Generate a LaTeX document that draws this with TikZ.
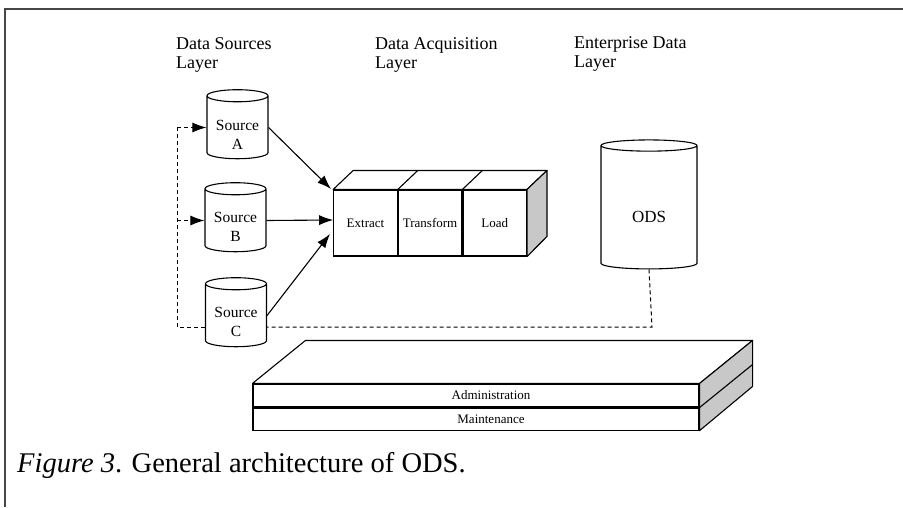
\documentclass[tikz,border=0pt]{standalone}
\usepackage{fontspec}
\setmainfont{Liberation Serif}
\usetikzlibrary{shapes.geometric,positioning,arrows.meta}

\definecolor{sidegray}{RGB}{200,200,200}
\definecolor{framegray}{RGB}{70,70,70}

\tikzset{
    source node/.style={cylinder, shape border rotate=90, draw, line width=1.1pt,
        aspect=0.28, minimum width=61pt, minimum height=69pt, inner sep=0pt,
        align=center, text height=43pt, font=\fontsize{15.5}{19}\selectfont},
    etl node/.style={rectangle, draw, line width=1.1pt, minimum width=63.5pt,
        minimum height=66pt, inner sep=0pt, font=\fontsize{13}{15}\selectfont},
    slab node/.style={rectangle, draw, line width=1.1pt, minimum width=446pt,
        inner sep=0pt, font=\fontsize{13}{15}\selectfont},
    layer label/.style={anchor=base west, align=left, inner sep=0pt,
        font=\fontsize{18}{18.5}\selectfont},
    flow/.style={line width=1.1pt, -{Latex[length=14pt,width=10pt]}},
    feedback/.style={line width=1pt, dash pattern=on 4pt off 3pt},
    face/.style={line width=1.1pt, line join=round}
    }

\begin{document}
\begin{tikzpicture}[x=1pt,y=-1pt]
    \useasboundingbox (0,0) rectangle (903,507);
    % Frame of the figure
    \draw[framegray, line width=1.5pt] (5,507) -- (5,9) -- (903,9);
    % Layer headings
    \node[layer label] (srclayer) at (176,68) {Data Sources\\Layer};
    \node[layer label] (acqlayer) at (375,68) {Data Acquisition\\Layer};
    \node[layer label] (entlayer) at (574,67) {Enterprise Data\\Layer};
    % The sources
    \node[source node] (srcA) at (237.5,127.5) {Source\\A};
    \node[source node] (srcB) at (235.5,220.5) {Source\\B};
    \node[source node] (srcC) at (236,315.5) {Source\\C};
    % Extract, transform, load
    \node[etl node] (extract) at (365.5,223) {Extract};
    \node[etl node, right=0pt of extract] (transform) {Transform};
    \node[etl node, right=0pt of transform] (load) {Load\hspace{14pt}};
    \filldraw[face, fill=white] (extract.north west) -- ++(20,-19)
        -- ([shift={(20,-19)}]load.north east) -- (load.north east) -- cycle;
    \draw[face] (transform.north west) -- ++(20,-19);
    \draw[face] (load.north west) -- ++(20,-19);
    \filldraw[face, fill=sidegray] (load.north east) -- ++(20,-19) -- ++(0,66)
        -- (load.south east) -- cycle;
    % The ODS
    \node[source node, minimum width=96pt, minimum height=129pt, aspect=0.33,
        text height=30pt, font=\fontsize{17}{20}\selectfont] (ods) at (649,207.5) {ODS};
    % Administration and maintenance
    \node[slab node, minimum height=23pt] (admin) at (476,395.5) {\hspace{30pt}Administration};
    \node[slab node, minimum height=22pt, below=0pt of admin] (maint) {\hspace{30pt}Maintenance};
    \filldraw[face, fill=white] (admin.north west) -- ++(53,-43)
        -- ([shift={(53,-43)}]admin.north east) -- (admin.north east) -- cycle;
    \filldraw[face, fill=sidegray] (admin.north east) -- ++(53,-43) -- ++(0,46)
        -- (maint.south east) -- cycle;
    \draw[face] (admin.south east) -- ++(53,-43);
    % Flows into the ETL
    \coordinate (inA) at (331,189);
    \coordinate (inC) at (330,234);
    \draw[flow] (srcA.east) -- (inA);
    \draw[flow] (srcB.east) -- ([yshift=3pt]extract.west);
    \draw[flow] (srcC.east) -- (inC);
    % Dashed feedback from the ODS
    \coordinate (busR) at (652,327);
    \coordinate (busL) at (177,327);
    \draw[feedback] (ods.south) -- (busR) -- (busR -| srcC.east);
    \draw[feedback] (busL -| srcC.west) -- (busL) -- (busL |- srcA.west);
    \draw[feedback, -{Latex[length=14pt,width=10pt]}] (busL |- srcA.west) -- (srcA.west);
    \draw[feedback, -{Latex[length=14pt,width=10pt]}] (busL |- srcB.west) -- (srcB.west);
    % Caption
    \node[anchor=base west, inner sep=0pt, font=\fontsize{28.5}{31}\selectfont]
        (caption) at (17,472) {\textit{Figure 3}. General architecture of ODS.};
\end{tikzpicture}
\end{document}
